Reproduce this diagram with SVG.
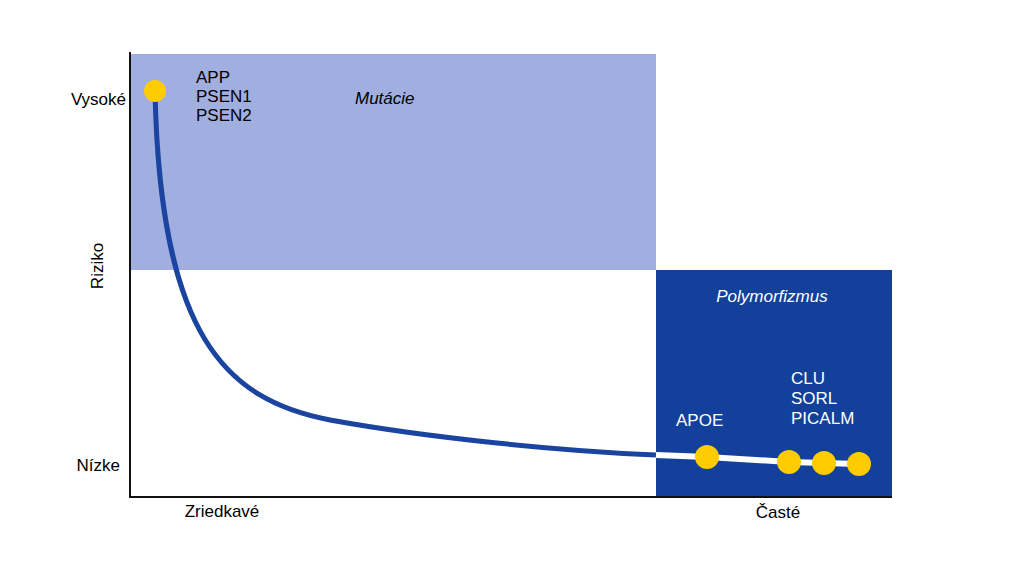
<svg xmlns="http://www.w3.org/2000/svg" width="1023" height="565" viewBox="0 0 1023 565">
<style>
text{font-family:"Liberation Sans",Arial,sans-serif;font-size:17px;fill:#000}
.w{fill:#fff}
.i{font-style:italic}
.dot{fill:#ffcc00}
</style>
<rect width="1023" height="565" fill="#fff"/>
<g id="mutacie-region">
<rect x="131" y="54" width="525" height="216" fill="#a1aee0"/>
<text x="355" y="104" class="i">Mutácie</text>
</g>
<g id="polymorfizmus-region">
<rect x="656" y="270" width="236" height="227" fill="#12409b"/>
<text x="772" y="302" class="i w" text-anchor="middle">Polymorfizmus</text>
</g>
<g id="axes">
<line x1="130" y1="52" x2="130" y2="498" stroke="#111" stroke-width="2"/>
<line x1="129" y1="497" x2="892" y2="497" stroke="#111" stroke-width="2"/>
<text x="126" y="105" text-anchor="end">Vysoké</text>
<text x="120" y="471" text-anchor="end">Nízke</text>
<text transform="translate(103,266) rotate(-90)" text-anchor="middle">Riziko</text>
<text x="222" y="517" text-anchor="middle">Zriedkavé</text>
<text x="778" y="518" text-anchor="middle">Časté</text>
</g>
<g id="connectors">
<path d="M155,91 C160,335 225,400 330,420 C430,438 560,451 656,455" fill="none" stroke="#1a44a0" stroke-width="5"/>
<path d="M656,455 L707,457 L789,462 L824,463 L859,464" fill="none" stroke="#fff" stroke-width="6"/>
</g>
<g id="node-app">
<circle cx="155" cy="91" r="11" class="dot"/>
<text x="196" y="83">APP</text>
<text x="196" y="102">PSEN1</text>
<text x="196" y="121">PSEN2</text>
</g>
<g id="node-apoe">
<circle cx="707" cy="457" r="12" class="dot"/>
<text x="676" y="426" class="w">APOE</text>
</g>
<g id="node-clu">
<circle cx="789" cy="462" r="12" class="dot"/>
<text x="791" y="384" class="w">CLU</text>
<text x="791" y="404" class="w">SORL</text>
<text x="791" y="424" class="w">PICALM</text>
</g>
<g id="node-sorl">
<circle cx="824" cy="463" r="12" class="dot"/>
</g>
<g id="node-picalm">
<circle cx="859" cy="464" r="12" class="dot"/>
</g>
</svg>
